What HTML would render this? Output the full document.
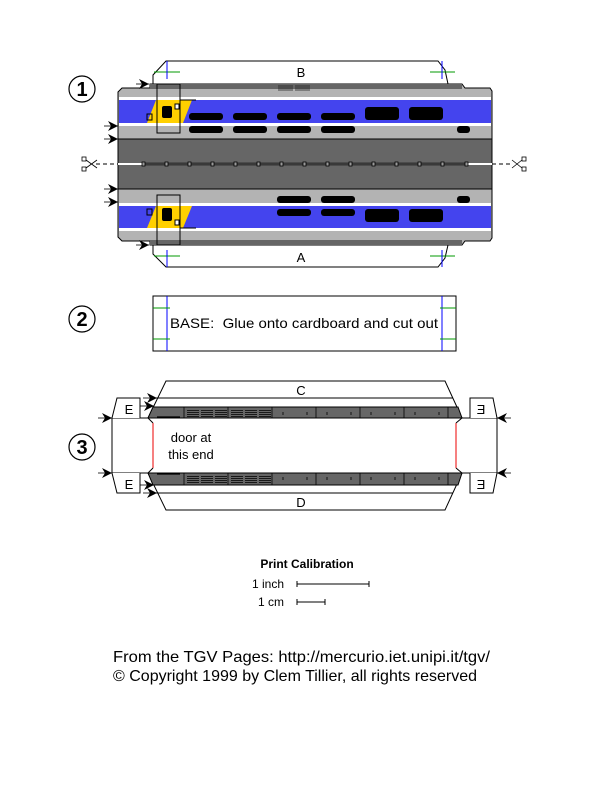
<!DOCTYPE html>
<html><head><meta charset="utf-8"><style>
html,body{margin:0;padding:0;background:#fff}
svg{display:block}
text{font-family:"Liberation Sans",Arial,sans-serif}
</style></head><body>
<svg width="612" height="792" viewBox="0 0 612 792" xmlns="http://www.w3.org/2000/svg">
<defs>
<marker id="a" viewBox="0 0 10 10" refX="10" refY="5" markerWidth="10" markerHeight="10" markerUnits="userSpaceOnUse" orient="auto"><path d="M0,0 L10,5 L0,10 L3,5 z" fill="#000"/></marker>
</defs>
<g fill="none" stroke="#000" stroke-width="1.2">
<circle cx="82" cy="89" r="13"/><circle cx="82" cy="319" r="13"/><circle cx="82" cy="447" r="13"/>
</g>
<g font-size="20" font-weight="bold" text-anchor="middle">
<text x="82" y="96">1</text><text x="82" y="326">2</text><text x="82" y="454">3</text>
</g>

<!-- SECTION 1 -->
<path d="M153,84 L153,75 L166,61 L438,61 L445,70 L448,84" fill="#fff" stroke="#000"/>
<path d="M153,245 L153,254 L166,267 L438,267 L445,258 L448,245" fill="#fff" stroke="#000"/>
<text x="301" y="77" font-size="13" text-anchor="middle">B</text>
<text x="301" y="262" font-size="13" text-anchor="middle">A</text>
<g stroke="#090" stroke-width="1"><line x1="154" y1="72" x2="180" y2="72"/><line x1="430" y1="72" x2="455" y2="72"/><line x1="154" y1="256" x2="180" y2="256"/><line x1="430" y1="256" x2="455" y2="256"/></g>
<g stroke="#00f" stroke-width="1"><line x1="167" y1="61" x2="167" y2="79"/><line x1="442" y1="61" x2="442" y2="79"/><line x1="167" y1="250" x2="167" y2="267"/><line x1="442" y1="250" x2="442" y2="267"/></g>
<path d="M118,92 L122,88 L150,88 L150,84 L462,84 L465,88 L490,88 L492,91 L492,238 L490,241 L465,241 L462,245 L150,245 L150,241 L122,241 L118,237 Z" fill="#b3b3b3" stroke="#000"/>
<rect x="150" y="84" width="312" height="5" fill="#666"/>
<rect x="150" y="240" width="312" height="5" fill="#666"/>
<rect x="119" y="97" width="372" height="3" fill="#fff"/>
<rect x="119" y="100" width="372" height="23" fill="#4444ee"/>
<rect x="119" y="123" width="372" height="3" fill="#fff"/>
<rect x="119" y="206" width="372" height="22" fill="#4444ee"/>
<rect x="119" y="203" width="372" height="3" fill="#fff"/>
<rect x="119" y="228" width="372" height="3" fill="#fff"/>
<rect x="118" y="139" width="374" height="50" fill="#666" stroke="#000"/>
<line x1="118" y1="164" x2="142" y2="164" stroke="#fff" stroke-width="2"/>
<line x1="142" y1="164" x2="467" y2="164" stroke="#000" stroke-width="2.5"/>
<line x1="142" y1="164" x2="467" y2="164" stroke="#999" stroke-width="0.8"/>
<line x1="467" y1="164" x2="492" y2="164" stroke="#fff" stroke-width="2"/>
<g fill="#999" stroke="#000" stroke-width="0.8">
<rect x="142" y="162" width="3" height="4"/><rect x="165" y="162" width="3" height="4"/><rect x="188" y="162" width="3" height="4"/><rect x="211" y="162" width="3" height="4"/><rect x="234" y="162" width="3" height="4"/><rect x="257" y="162" width="3" height="4"/><rect x="280" y="162" width="3" height="4"/><rect x="303" y="162" width="3" height="4"/><rect x="326" y="162" width="3" height="4"/><rect x="349" y="162" width="3" height="4"/><rect x="372" y="162" width="3" height="4"/><rect x="395" y="162" width="3" height="4"/><rect x="418" y="162" width="3" height="4"/><rect x="441" y="162" width="3" height="4"/><rect x="465" y="162" width="3" height="4"/>
</g>
<polygon points="156,100 192,100 183,123 147,123" fill="#ffd000"/>
<polygon points="156,206 192,206 183,228 147,228" fill="#ffd000"/>
<rect x="162" y="106" width="10" height="12" rx="2" fill="#000"/>
<rect x="162" y="208" width="10" height="13" rx="2" fill="#000"/>
<rect x="147" y="114" width="5" height="6" fill="none" stroke="#000"/>
<rect x="175" y="104" width="4" height="5" fill="#fff" stroke="#000"/>
<rect x="147" y="209" width="5" height="6" fill="none" stroke="#000"/>
<rect x="175" y="220" width="4" height="5" fill="#fff" stroke="#000"/>
<rect x="157" y="84" width="23" height="49" fill="none" stroke="#000"/>
<rect x="157" y="195" width="23" height="50" fill="none" stroke="#000"/>
<line x1="180" y1="100" x2="196" y2="100" stroke="#000"/>
<line x1="180" y1="228" x2="196" y2="228" stroke="#000"/>
<g fill="#000">
<rect x="189" y="113" width="34" height="7" rx="3"/><rect x="233" y="113" width="34" height="7" rx="3"/><rect x="277" y="113" width="34" height="7" rx="3"/><rect x="321" y="113" width="34" height="7" rx="3"/>
<rect x="365" y="107" width="34" height="13" rx="3"/><rect x="409" y="107" width="34" height="13" rx="3"/>
<rect x="189" y="126" width="34" height="7" rx="3"/><rect x="233" y="126" width="34" height="7" rx="3"/><rect x="277" y="126" width="34" height="7" rx="3"/><rect x="321" y="126" width="34" height="7" rx="3"/><rect x="457" y="126" width="13" height="7" rx="3"/>
<rect x="277" y="196" width="34" height="7" rx="3"/><rect x="321" y="196" width="34" height="7" rx="3"/><rect x="457" y="196" width="13" height="7" rx="3"/>
<rect x="277" y="209" width="34" height="7" rx="3"/><rect x="321" y="209" width="34" height="7" rx="3"/>
<rect x="365" y="209" width="34" height="13" rx="3"/><rect x="409" y="209" width="34" height="13" rx="3"/>
</g>
<g stroke="#222" stroke-width="0.8"><path d="M278,86h15M278,88h15M278,90h15M295,86h15M295,88h15M295,90h15"/></g>
<g stroke="#000" stroke-width="0.8" marker-end="url(#a)">
<line x1="136" y1="84" x2="149" y2="84"/><line x1="104" y1="126" x2="118" y2="126"/><line x1="104" y1="139" x2="118" y2="139"/>
<line x1="104" y1="189" x2="118" y2="189"/><line x1="104" y1="202" x2="118" y2="202"/><line x1="136" y1="245" x2="149" y2="245"/>
</g>
<line x1="96" y1="164" x2="118" y2="164" stroke="#000" stroke-dasharray="4,3"/>
<line x1="492" y1="164" x2="513" y2="164" stroke="#000" stroke-dasharray="4,3"/>
<g fill="none" stroke="#000" stroke-width="0.8">
<rect x="82" y="157" width="4" height="4"/><rect x="82" y="167" width="4" height="4"/><line x1="86" y1="160" x2="97" y2="168"/><line x1="86" y1="168" x2="97" y2="160"/>
<rect x="522" y="157" width="4" height="4"/><rect x="522" y="167" width="4" height="4"/><line x1="522" y1="160" x2="512" y2="168"/><line x1="522" y1="168" x2="512" y2="160"/>
</g>

<!-- SECTION 2 -->
<rect x="153" y="296" width="303" height="55" fill="#fff" stroke="#000"/>
<g stroke="#00f"><line x1="167" y1="296" x2="167" y2="351"/><line x1="442" y1="296" x2="442" y2="351"/></g>
<g stroke="#090"><line x1="153" y1="308" x2="170" y2="308"/><line x1="153" y1="339" x2="170" y2="339"/><line x1="440" y1="308" x2="456" y2="308"/><line x1="440" y1="339" x2="456" y2="339"/></g>
<text x="170" y="328" font-size="14" textLength="268" lengthAdjust="spacingAndGlyphs">BASE:&#160; Glue onto cardboard and cut out</text>

<!-- SECTION 3 -->
<path d="M148,418 L166,381 L445,381 L462,418" fill="#fff" stroke="#000"/>
<line x1="156" y1="398" x2="453" y2="398" stroke="#000"/>
<path d="M148,473 L166,510 L445,510 L462,473" fill="#fff" stroke="#000"/>
<line x1="156" y1="493" x2="453" y2="493" stroke="#000"/>
<text x="301" y="395" font-size="13" text-anchor="middle">C</text>
<text x="301" y="507" font-size="13" text-anchor="middle">D</text>
<polygon points="148,418 153,407 458,407 462,418" fill="#666" stroke="#000"/>
<polygon points="148,473 153,485 458,485 462,473" fill="#666" stroke="#000"/>
<g stroke="#000" stroke-width="0.8">
<line x1="184" y1="407" x2="184" y2="418"/><line x1="228" y1="407" x2="228" y2="418"/><line x1="272" y1="407" x2="272" y2="418"/><line x1="316" y1="407" x2="316" y2="418"/><line x1="360" y1="407" x2="360" y2="418"/><line x1="404" y1="407" x2="404" y2="418"/><line x1="448" y1="407" x2="448" y2="418"/>
<line x1="184" y1="473" x2="184" y2="485"/><line x1="228" y1="473" x2="228" y2="485"/><line x1="272" y1="473" x2="272" y2="485"/><line x1="316" y1="473" x2="316" y2="485"/><line x1="360" y1="473" x2="360" y2="485"/><line x1="404" y1="473" x2="404" y2="485"/><line x1="448" y1="473" x2="448" y2="485"/>
<line x1="157" y1="417" x2="180" y2="417" stroke-width="1.2"/><line x1="157" y1="474" x2="180" y2="474" stroke-width="1.2"/>
</g>
<g stroke="#000" stroke-width="0.8">
<path d="M187,410.5h12M187,412.5h12M187,414.5h12M187,416.5h12M201,410.5h12M201,412.5h12M201,414.5h12M201,416.5h12M215,410.5h12M215,412.5h12M215,414.5h12M215,416.5h12M231,410.5h12M231,412.5h12M231,414.5h12M231,416.5h12M245,410.5h12M245,412.5h12M245,414.5h12M245,416.5h12M259,410.5h12M259,412.5h12M259,414.5h12M259,416.5h12"/>
<path d="M187,476.5h12M187,478.5h12M187,480.5h12M187,482.5h12M201,476.5h12M201,478.5h12M201,480.5h12M201,482.5h12M215,476.5h12M215,478.5h12M215,480.5h12M215,482.5h12M231,476.5h12M231,478.5h12M231,480.5h12M231,482.5h12M245,476.5h12M245,478.5h12M245,480.5h12M245,482.5h12M259,476.5h12M259,478.5h12M259,480.5h12M259,482.5h12"/>
<path d="M283,412v3M307,412v3M327,412v3M351,412v3M371,412v3M395,412v3M415,412v3M439,412v3M283,477v3M307,477v3M327,477v3M351,477v3M371,477v3M395,477v3M415,477v3M439,477v3"/>
</g>
<rect x="112" y="418" width="385" height="55" fill="#fff" stroke="#000"/>
<line x1="148" y1="418" x2="462" y2="418" stroke="#000"/>
<line x1="153" y1="423" x2="153" y2="468" stroke="#e00"/>
<line x1="456" y1="423" x2="456" y2="468" stroke="#e00"/>
<line x1="148" y1="418" x2="153" y2="423" stroke="#000"/><line x1="148" y1="473" x2="153" y2="468" stroke="#000"/>
<line x1="462" y1="418" x2="456" y2="423" stroke="#000"/><line x1="462" y1="473" x2="456" y2="468" stroke="#000"/>
<text x="191" y="442" font-size="13" text-anchor="middle">door at</text>
<text x="191" y="459" font-size="13" text-anchor="middle">this end</text>
<g fill="#fff" stroke="#000">
<path d="M112,418 L117,398 L140,398 L140,418"/><path d="M112,473 L117,493 L140,493 L140,473"/>
<path d="M497,418 L493,398 L470,398 L470,418"/><path d="M497,473 L493,493 L470,493 L470,473"/>
</g>
<g font-size="13" text-anchor="middle">
<text x="129" y="414">E</text><text x="129" y="489">E</text>
<text x="481" y="414" transform="translate(962,0) scale(-1,1)">E</text>
<text x="481" y="489" transform="translate(962,0) scale(-1,1)">E</text>
</g>
<g stroke="#000" stroke-width="0.8" marker-end="url(#a)">
<line x1="98" y1="418" x2="112" y2="418"/><line x1="98" y1="473" x2="112" y2="473"/>
<line x1="511" y1="418" x2="497" y2="418"/><line x1="511" y1="473" x2="497" y2="473"/>
<line x1="143" y1="398" x2="157" y2="398"/><line x1="140" y1="406" x2="154" y2="406"/>
<line x1="140" y1="485" x2="154" y2="485"/><line x1="143" y1="493" x2="157" y2="493"/>
</g>

<text x="307" y="568" font-size="12" font-weight="bold" text-anchor="middle">Print Calibration</text>
<text x="284" y="588" font-size="12" text-anchor="end">1 inch</text>
<text x="284" y="606" font-size="12" text-anchor="end">1 cm</text>
<g stroke="#000"><path d="M297,584h72M297,581v6M369,581v6M297,602h28M297,599v6M325,599v6"/></g>

<text x="113" y="662" font-size="16" textLength="377" lengthAdjust="spacingAndGlyphs">From the TGV Pages: http://mercurio.iet.unipi.it/tgv/</text>
<text x="113" y="681" font-size="16" textLength="364" lengthAdjust="spacingAndGlyphs">© Copyright 1999 by Clem Tillier, all rights reserved</text>
</svg>
</body></html>
